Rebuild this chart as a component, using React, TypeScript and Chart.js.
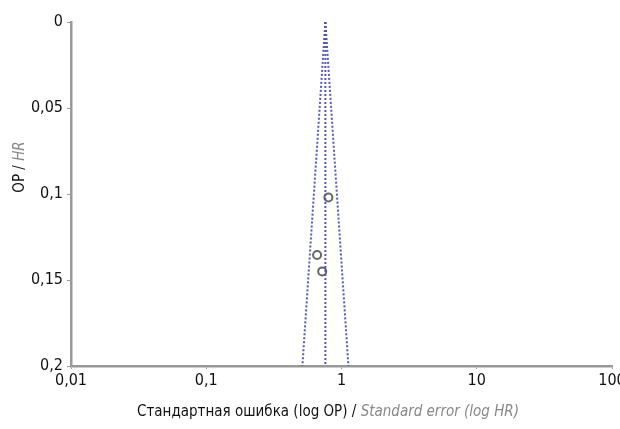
import React, { useEffect, useRef } from "react";
import { Chart, registerables } from "chart.js";

Chart.register(...registerables);

// Funnel plot data
const studyHR = [0.8, 0.66, 0.72];
const studySE = [0.102, 0.1355, 0.145];

const funnelSE = [0, 0.2];
const funnelLeftHR = [0.76, 0.514];
const funnelRightHR = [0.76, 1.125];
const funnelMidHR = [0.76, 0.76];

const xTicks = [0.01, 0.1, 1, 10, 100];
const xTickLabels = ["0,01", "0,1", "1", "10", "100"];
const yTickLabels = ["0", "0,05", "0,1", "0,15", "0,2"];

const FONT = "'Liberation Sans Narrow', 'DejaVu Sans Condensed', sans-serif";

export default function App() {
  const ref = useRef<HTMLCanvasElement | null>(null);

  useEffect(() => {
    if (!ref.current) return;
    const lineColor = "rgba(75,75,200,0.95)";
    const mk = (xs: number[]) => xs.map((x, i) => ({ x, y: funnelSE[i] }));

    const titlePlugin = {
      id: "mixedTitles",
      afterDraw(chart: any) {
        const ctx = chart.ctx;
        ctx.save();
        ctx.textBaseline = "middle";
        const sz = 15;
        const p1 = "Стандартная ошибка (log ОР) / ";
        const p2 = "Standard error (log HR)";
        ctx.font = `${sz}px ${FONT}`;
        const w1 = ctx.measureText(p1).width;
        ctx.font = `italic ${sz}px ${FONT}`;
        const w2 = ctx.measureText(p2).width;
        const x0 = 328 - (w1 + w2) / 2;
        ctx.textAlign = "left";
        ctx.font = `${sz}px ${FONT}`;
        ctx.fillStyle = "#111";
        ctx.fillText(p1, x0, 412);
        ctx.font = `italic ${sz}px ${FONT}`;
        ctx.fillStyle = "#888";
        ctx.fillText(p2, x0 + w1, 412);

        ctx.translate(20, 167);
        ctx.rotate(-Math.PI / 2);
        const q1 = "ОР / ";
        const q2 = "HR";
        ctx.font = `${sz}px ${FONT}`;
        const v1 = ctx.measureText(q1).width;
        ctx.font = `italic ${sz}px ${FONT}`;
        const v2 = ctx.measureText(q2).width;
        const s0 = -(v1 + v2) / 2;
        ctx.font = `${sz}px ${FONT}`;
        ctx.fillStyle = "#111";
        ctx.fillText(q1, s0, 0);
        ctx.font = `italic ${sz}px ${FONT}`;
        ctx.fillStyle = "#888";
        ctx.fillText(q2, s0 + v1, 0);
        ctx.restore();
      },
    };

    const lineDs = (xs: number[]) => ({
      type: "line",
      data: mk(xs),
      borderColor: lineColor,
      borderWidth: 2,
      borderDash: [2, 2],
      pointRadius: 0,
      fill: false,
    });

    const chart = new Chart(ref.current, {
      type: "scatter",
      data: {
        datasets: [
          lineDs(funnelLeftHR),
          lineDs(funnelMidHR),
          lineDs(funnelRightHR),
          {
            data: studyHR.map((x, i) => ({ x, y: studySE[i] })),
            pointRadius: 4,
            pointBorderWidth: 2,
            pointBorderColor: "#666",
            pointBackgroundColor: "rgba(255,255,255,0)",
          },
        ],
      },
      options: {
        animation: false,
        responsive: true,
        maintainAspectRatio: false,
        layout: { padding: { left: 0, top: 22, right: 8, bottom: 0 } },
        plugins: { legend: { display: false }, tooltip: { enabled: false } },
        scales: {
          x: {
            type: "logarithmic",
            min: 0.01,
            max: 100,
            afterBuildTicks: (s: any) => {
              s.ticks = xTicks.map((v) => ({ value: v }));
            },
            afterFit: (s: any) => {
              s.height = 63;
              s.paddingLeft = 0;
              s.paddingRight = 0;
            },
            border: { display: true, color: "#999", width: 2.5 },
            grid: {
              display: true,
              drawOnChartArea: false,
              drawTicks: true,
              tickLength: 3,
              color: "#999",
            },
            ticks: {
              autoSkip: false,
              maxRotation: 0,
              padding: 2,
              color: "#111",
              font: { family: FONT, size: 16 },
              callback: (_v: any, i: number) => xTickLabels[i],
            },
          },
          y: {
            type: "linear",
            reverse: true,
            min: 0,
            max: 0.2,
            afterBuildTicks: (s: any) => {
              s.ticks = yTickLabels.map((_, i) => ({ value: i * 0.05 }));
            },
            afterFit: (s: any) => {
              s.width = 71;
              s.paddingTop = 0;
              s.paddingBottom = 0;
            },
            border: { display: true, color: "#999", width: 2.5 },
            grid: {
              display: true,
              drawOnChartArea: false,
              drawTicks: true,
              tickLength: 4,
              color: "#999",
            },
            ticks: {
              padding: 4,
              color: "#111",
              font: { family: FONT, size: 16 },
              callback: (_v: any, i: number) => yTickLabels[i],
            },
          },
        },
      },
      plugins: [titlePlugin],
    } as any);

    return () => chart.destroy();
  }, []);

  return (
    <div style={{ position: "absolute", left: 0, top: 0, width: 620, height: 429, background: "#fff" }}>
      <canvas ref={ref} />
    </div>
  );
}
